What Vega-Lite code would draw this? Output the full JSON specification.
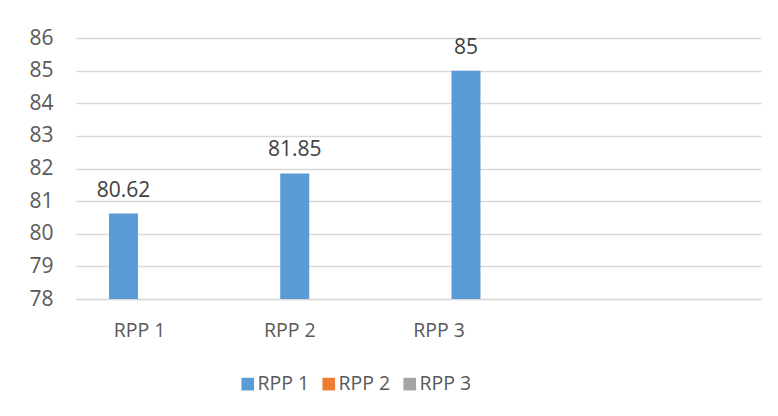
{
  "$schema": "https://vega.github.io/schema/vega-lite/v6.json",
  "width": 685,
  "height": 261,
  "autosize": {"type": "none"},
  "padding": {"left": 76, "top": 38, "right": 17, "bottom": 117},
  "background": "white",
  "config": {
    "view": {"stroke": null},
    "font": "Open Sans",
    "text": {"font": "Open Sans"}
  },
  "data": {
    "values": [
      {"kategori": "RPP 1", "seri": "RPP 1", "nilai": 80.62},
      {"kategori": "RPP 2", "seri": "RPP 1", "nilai": 81.85},
      {"kategori": "RPP 3", "seri": "RPP 1", "nilai": 85}
    ]
  },
  "encoding": {
    "x": {
      "field": "kategori",
      "type": "nominal",
      "scale": {"domain": ["RPP 1", "RPP 2", "RPP 3", ""], "paddingInner": 0, "paddingOuter": 0},
      "axis": {
        "title": null,
        "labelAngle": 0,
        "ticks": false,
        "domain": true,
        "domainColor": "#d9d9d9",
        "domainWidth": 1.5,
        "labelFont": "Open Sans",
        "labelFontSize": 19.5,
        "labelColor": "#595959",
        "labelPadding": 22,
        "labelOffset": {"expr": "datum.value == 'RPP 1' ? -22 : datum.value == 'RPP 2' ? -43 : -65"}
      }
    },
    "xOffset": {
      "field": "seri",
      "type": "nominal",
      "scale": {"domain": ["RPP 1", "RPP 2", "RPP 3"], "paddingInner": 0.51, "paddingOuter": 1}
    },
    "y": {
      "field": "nilai",
      "type": "quantitative",
      "scale": {"domain": [78, 86], "nice": false, "zero": false},
      "axis": {
        "title": null,
        "values": [78, 79, 80, 81, 82, 83, 84, 85, 86],
        "grid": true,
        "gridColor": "#d9d9d9",
        "gridWidth": 1.5,
        "domain": false,
        "ticks": false,
        "labelFont": "Open Sans",
        "labelFontSize": 21,
        "labelColor": "#595959",
        "labelPadding": 23
      }
    }
  },
  "layer": [
    {
      "mark": {"type": "bar", "width": 29},
      "encoding": {
        "y2": {"datum": 78},
        "color": {
          "field": "seri",
          "type": "nominal",
          "scale": {"domain": ["RPP 1", "RPP 2", "RPP 3"], "range": ["#5b9bd5", "#ed7d31", "#a5a5a5"]},
          "legend": {
            "title": null,
            "orient": "none",
            "direction": "horizontal",
            "legendX": 162,
            "legendY": 336,
            "symbolType": "square",
            "symbolSize": 160,
            "symbolStrokeWidth": 0,
            "labelFont": "Open Sans",
            "labelFontSize": 19.5,
            "labelColor": "#595959",
            "labelOffset": 0,
            "columnPadding": 9
          }
        }
      }
    },
    {
      "mark": {"type": "text", "baseline": "alphabetic", "dy": -17, "fontSize": 21, "color": "#404040"},
      "encoding": {
        "text": {"field": "nilai", "type": "quantitative", "format": "~r"}
      }
    }
  ]
}
